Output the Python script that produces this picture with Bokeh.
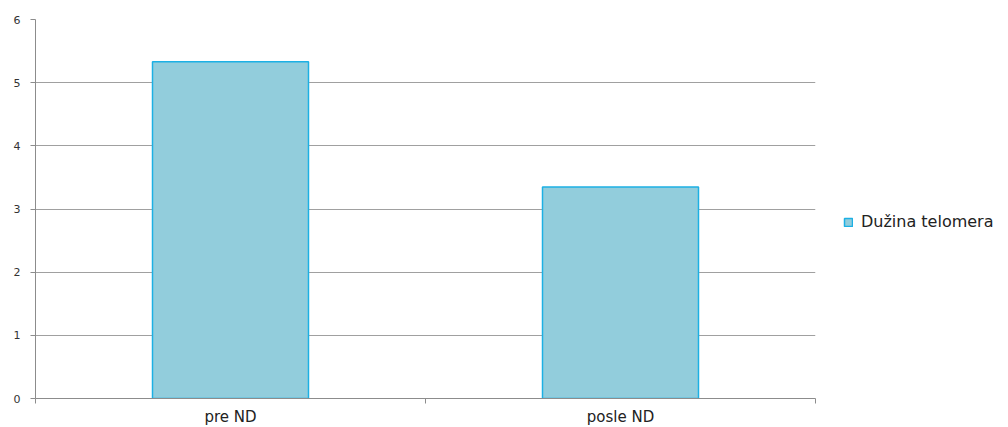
from bokeh.plotting import figure
from bokeh.models import Range1d, FixedTicker, Legend, LegendItem, ColumnDataSource
from bokeh.embed import file_html
from bokeh.resources import INLINE

categories = ["pre ND", "posle ND"]
values = [5.33, 3.35]
series_name = "Dužina telomera"
y_ticks = [0, 1, 2, 3, 4, 5, 6]

xs = [i + 0.5 for i in range(len(categories))]
src = ColumnDataSource(dict(x=xs, top=values))

p = figure(frame_width=780, frame_height=379, output_backend="svg", toolbar_location=None,
           x_range=Range1d(0, len(categories)), y_range=Range1d(0, 6),
           min_border_left=35, min_border_top=19, min_border_bottom=28, min_border_right=193)
p.outline_line_color = None
p.background_fill_color = "white"

r = p.vbar(x="x", top="top", width=0.4, bottom=0, source=src,
           fill_color="#92CDDC", line_color="#1CB0E4", line_width=1.5)

p.xgrid.visible = False
p.ygrid.ticker = FixedTicker(ticks=y_ticks)
p.ygrid.grid_line_color = "#A0A0A0"
p.ygrid.grid_line_width = 1.2

xa = p.xaxis[0]
xa.ticker = FixedTicker(ticks=xs, minor_ticks=list(range(len(categories) + 1)))
xa.major_label_overrides = {x: c for x, c in zip(xs, categories)}
xa.major_tick_out = 0
xa.major_tick_in = 0
xa.minor_tick_out = 5
xa.minor_tick_in = 0
xa.minor_tick_line_color = "#8C8C8C"
xa.axis_line_color = "#8C8C8C"
xa.major_label_text_font = "DejaVu Sans"
xa.major_label_text_font_size = "15px"
xa.major_label_text_color = "#222222"
xa.major_label_standoff = 4

ya = p.yaxis[0]
ya.ticker = FixedTicker(ticks=y_ticks)
ya.minor_tick_line_color = None
ya.major_tick_out = 5
ya.major_tick_in = 0
ya.major_tick_line_color = "#8C8C8C"
ya.axis_line_color = "#8C8C8C"
ya.major_label_text_font = "DejaVu Sans"
ya.major_label_text_font_size = "11px"
ya.major_label_text_color = "#333333"
ya.major_label_standoff = 10

legend = Legend(items=[LegendItem(label=series_name, renderers=[r])],
                location=(28, 167), margin=0, padding=0,
                glyph_width=10, glyph_height=10, label_standoff=8,
                border_line_color=None, background_fill_alpha=0,
                label_text_font="DejaVu Sans", label_text_font_size="16px",
                label_text_color="#222222")
p.add_layout(legend, "right")

open("out.html", "w").write(file_html(p, INLINE))
